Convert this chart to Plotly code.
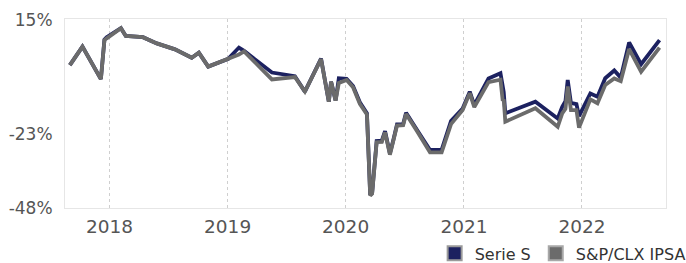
import plotly.graph_objects as go

dates = [
    "2017-08-31", "2017-10-09", "2017-12-05", "2017-12-16", "2017-12-23",
    "2018-02-05", "2018-02-20", "2018-04-14", "2018-05-27", "2018-07-22",
    "2018-09-12", "2018-10-04", "2018-11-02", "2019-01-03", "2019-02-05",
    "2019-02-21", "2019-05-18", "2019-07-28", "2019-08-28", "2019-10-17",
    "2019-11-10", "2019-11-17", "2019-12-01", "2019-12-11", "2020-01-04",
    "2020-01-24", "2020-02-14", "2020-03-07", "2020-03-17", "2020-03-23",
    "2020-04-06", "2020-04-22", "2020-05-02", "2020-05-17", "2020-05-28",
    "2020-06-08", "2020-06-27", "2020-07-06", "2020-08-08", "2020-09-18",
    "2020-10-24", "2020-11-22", "2020-12-28", "2021-01-19", "2021-02-02",
    "2021-03-18", "2021-04-24", "2021-05-01", "2021-05-04", "2021-05-09",
    "2021-08-10", "2021-10-18", "2021-11-01", "2021-11-11", "2021-11-18",
    "2021-11-28", "2021-12-15", "2021-12-23", "2022-01-27", "2022-02-18",
    "2022-03-14", "2022-04-11", "2022-05-01", "2022-05-27", "2022-07-03",
    "2022-08-29",
]

serie_s = [
    0.0, 6.2, -4.7, 8.6, 9.4,
    12.4, 9.8, 9.4, 7.3, 5.3,
    2.5, 4.2, -0.5, 2.1, 5.9,
    4.8, -2.5, -3.7, -8.9, 2.2,
    -12.3, -5.6, -11.9, -4.4, -4.6,
    -7.0, -12.5, -16.2, -43.6, -43.0,
    -25.5, -25.4, -22.2, -29.7, -25.0,
    -19.9, -19.8, -16.0, -21.6, -28.5,
    -28.5, -18.8, -14.6, -8.9, -13.4,
    -4.5, -2.7, -8.6, -9.0, -16.2,
    -12.3, -17.9, -14.0, -12.1, -5.0,
    -12.7, -13.1, -17.1, -9.5, -10.6,
    -4.4, -1.8, -4.2, 7.6, 0.3,
    8.4,
]

ipsa = [
    0.0, 6.2, -4.7, 8.4, 9.0,
    12.4, 9.8, 9.4, 7.3, 5.3,
    2.5, 4.2, -0.5, 2.0, 3.6,
    4.6, -4.8, -4.0, -8.9, 2.0,
    -12.3, -5.6, -11.9, -6.0, -5.0,
    -7.4, -13.0, -16.6, -43.8, -43.2,
    -25.9, -25.8, -22.6, -30.1, -25.4,
    -20.3, -20.2, -16.4, -22.0, -29.3,
    -29.3, -19.8, -15.1, -9.4, -14.1,
    -5.7, -4.9, -12.0, -11.5, -19.0,
    -14.5, -20.7, -16.2, -14.7, -7.2,
    -15.1, -15.1, -21.0, -11.5, -12.8,
    -6.7, -4.5, -5.4, 5.4, -2.2,
    5.9,
]

y_tick_vals = [15, -23, -48]
y_tick_text = ["15%", "-23%", "-48%"]
x_tick_vals = ["2018-01-01", "2019-01-01", "2020-01-01", "2021-01-01", "2022-01-01"]
x_tick_text = ["2018", "2019", "2020", "2021", "2022"]
series_names = ["Serie S", "S&P/CLX IPSA"]

NAVY = "#1c2160"
GRAY = "#6b6b6b"

fig = go.Figure()
fig.add_trace(go.Scatter(x=dates, y=serie_s, mode="lines", name=series_names[0],
                         line=dict(color=NAVY, width=3.8), showlegend=False,
                         hoverinfo="skip"))
fig.add_trace(go.Scatter(x=dates, y=ipsa, mode="lines", name=series_names[1],
                         line=dict(color=GRAY, width=3.8), showlegend=False,
                         hoverinfo="skip"))
# legend swatches
fig.add_trace(go.Scatter(x=[None], y=[None], mode="markers", name=series_names[0],
                         marker=dict(symbol="square", size=14, color=NAVY,
                                     line=dict(color="#9a9a9a", width=2))))
fig.add_trace(go.Scatter(x=[None], y=[None], mode="markers", name=series_names[1],
                         marker=dict(symbol="square", size=14, color=GRAY,
                                     line=dict(color="#a8a8a8", width=2))))

fig.update_layout(
    width=686, height=263,
    margin=dict(l=65, r=20, t=19, b=55, autoexpand=False),
    paper_bgcolor="white", plot_bgcolor="white",
    font=dict(family="DejaVu Sans, Verdana, sans-serif", size=17, color="#555555"),
    legend=dict(orientation="h", x=1.041, xanchor="right", y=-0.24, yanchor="middle",
                font=dict(size=16, color="#333333"), itemwidth=30,
                bgcolor="rgba(0,0,0,0)", tracegroupgap=0),
)
fig.update_xaxes(
    type="date", range=["2017-08-16", "2022-09-18"],
    tickvals=x_tick_vals, ticktext=x_tick_text, tickfont=dict(size=18.5),
    showgrid=True, gridcolor="#cfcfcf", griddash="dot", gridwidth=1,
    showline=True, mirror=True, linecolor="#e6e6e6", linewidth=1,
    zeroline=False, ticks="", ticklabelstandoff=2, automargin=False,
)
fig.update_yaxes(
    range=[-48, 15.5], tickvals=y_tick_vals, ticktext=y_tick_text,
    tickfont=dict(size=17),
    showgrid=False, zeroline=False,
    showline=True, mirror=True, linecolor="#e6e6e6", linewidth=1,
    ticks="", ticklabelstandoff=8, automargin=False,
)

fig.write_html("out.html", config={"displayModeBar": False, "staticPlot": True},
               post_script="document.body.style.margin='0';document.body.style.padding='0';")
